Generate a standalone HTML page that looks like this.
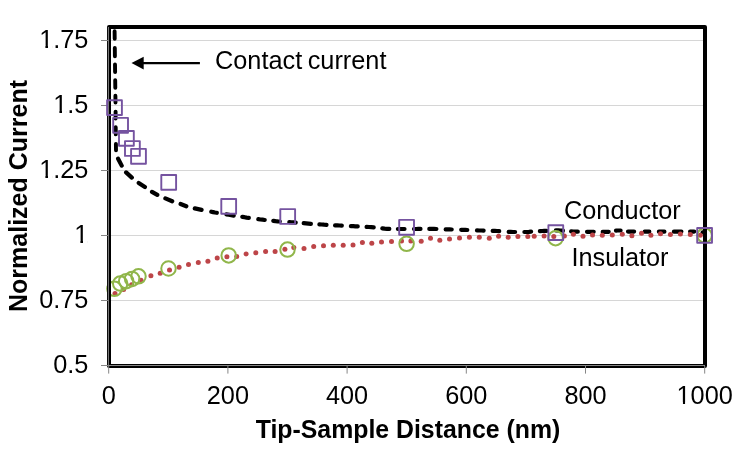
<!DOCTYPE html>
<html><head><meta charset="utf-8"><title>Chart</title>
<style>html,body{margin:0;padding:0;background:#fff}svg{display:block}text{font-family:"Liberation Sans",sans-serif;fill:#000}</style></head><body>
<svg width="753" height="451" viewBox="0 0 753 451">
<rect width="753" height="451" fill="#fff"/>
<line x1="109" x2="705" y1="300.5" y2="300.5" stroke="#d6d6d6" stroke-width="1"/>
<line x1="109" x2="705" y1="235.5" y2="235.5" stroke="#d6d6d6" stroke-width="1"/>
<line x1="109" x2="705" y1="170.5" y2="170.5" stroke="#d6d6d6" stroke-width="1"/>
<line x1="109" x2="705" y1="105.5" y2="105.5" stroke="#d6d6d6" stroke-width="1"/>
<line x1="109" x2="705" y1="40.5" y2="40.5" stroke="#d6d6d6" stroke-width="1"/>
<path d="M114.6,31.3 L114.7,38.7 M114.8,47.9 L114.9,56.2 M115.0,64.5 L115.1,72.0 M115.2,80.3 L115.3,87.8 M115.4,95.7 L115.5,102.5 M115.6,111.6 L115.6,118.5 M115.7,127.3 L115.8,134.4 M115.9,143.9 L116.0,150.3" fill="none" stroke="#000" stroke-width="3.9" stroke-linecap="round" stroke-linejoin="round"/>
<path d="M118.1,158.7 L121.7,165.6 M126.1,172.4 L131.8,177.6 M138.7,182.9 L144.9,187.0 M152.0,191.9 L157.3,194.9 M165.4,198.4 L172.2,201.3 M180.6,204.0 L186.3,206.3 M194.8,208.4 L201.6,209.9 M211.3,211.7 L213.1,212.1 L215.0,212.5 L216.8,212.8 M226.4,214.4 L228.8,214.8 L231.3,215.2 L233.7,215.6 M242.3,216.9 L244.5,217.2 L246.6,217.6 L248.8,217.9 M258.3,219.2 L260.4,219.5 L262.6,219.7 L264.7,220.0 M273.3,220.9 L275.5,221.2 L277.6,221.4 L279.8,221.5 M289.3,222.1 L291.4,222.3 L293.6,222.4 L295.7,222.6 M303.7,223.2 L306.1,223.4 L308.5,223.6 L310.9,223.8 M319.4,224.4 L321.8,224.5 L324.1,224.7 L326.5,224.8 M335.1,225.3 L337.3,225.4 L339.6,225.5 L341.8,225.6 M350.9,226.1 L353.2,226.2 L355.4,226.3 L357.7,226.4 M366.6,226.8 L369.0,227.0 L371.3,227.2 L373.7,227.4 M382.3,228.4 L384.6,228.7 L387.0,228.8 L389.3,228.9 M397.9,229.0 L400.1,229.0 L402.3,229.0 L404.5,229.0 M414.0,229.0 L416.2,229.0 L418.3,228.9 L420.5,228.9 M429.3,228.9 L431.7,228.9 L434.0,228.9 L436.4,229.0 M445.7,229.3 L447.7,229.4 L449.7,229.4 L451.7,229.5 M461.2,229.8 L463.2,229.8 L465.3,229.9 L467.3,230.0 M477.0,230.4 L479.2,230.5 L481.4,230.5 L483.6,230.6 M492.7,230.8 L494.9,230.9 L497.0,231.0 L499.2,231.1 M508.7,231.8 L510.8,231.9 L513.0,232.0 L515.1,232.0 M524.4,232.0 L526.6,232.0 L528.9,231.9 L531.1,231.7 M539.9,231.1 L542.1,231.0 L544.2,230.9 L546.4,230.8 M555.9,230.4 L558.2,230.3 L560.6,230.5 L562.9,230.7 M571.1,231.4 L573.3,231.6 L575.6,231.7 L577.8,231.7 M587.0,231.8 L589.2,231.8 L591.5,231.8 L593.7,231.8 M602.7,231.9 L604.7,231.9 L606.7,231.8 L608.7,231.8 M616.0,230.6 L617.5,230.5 L619.1,230.5 L620.6,230.5 M628.0,231.6 L630.0,231.6 L632.1,231.6 L634.1,231.6 M644.7,231.6 L646.2,231.7 L647.8,231.7 L649.3,231.7 M658.9,231.7 L660.7,231.7 L662.6,231.7 L664.4,231.7 M673.9,231.7 L676.4,231.7 L678.9,231.6 L681.4,231.6 M690.1,231.6 L691.5,231.6 L692.8,231.6 L694.2,231.6 M702.6,232.3 L703.0,232.4 L703.5,232.4 L703.9,232.4" fill="none" stroke="#000" stroke-width="4.2" stroke-linecap="round" stroke-linejoin="round"/>
<g fill="#BD4548"><circle cx="115.0" cy="293.6" r="2.5"/><circle cx="123.6" cy="289.5" r="2.5"/><circle cx="131.6" cy="284.8" r="2.5"/><circle cx="141.0" cy="280.2" r="2.5"/><circle cx="150.9" cy="275.8" r="2.5"/><circle cx="160.2" cy="273.2" r="2.5"/><circle cx="169.5" cy="269.9" r="2.5"/><circle cx="179.1" cy="267.3" r="2.5"/><circle cx="188.5" cy="264.4" r="2.5"/><circle cx="198.3" cy="262.4" r="2.5"/><circle cx="207.9" cy="261.3" r="2.5"/><circle cx="217.2" cy="258.0" r="2.5"/><circle cx="226.9" cy="256.7" r="2.5"/><circle cx="236.7" cy="256.4" r="2.5"/><circle cx="246.1" cy="253.9" r="2.5"/><circle cx="255.8" cy="252.7" r="2.5"/><circle cx="265.6" cy="251.4" r="2.5"/><circle cx="275.1" cy="251.4" r="2.5"/><circle cx="284.9" cy="249.3" r="2.5"/><circle cx="293.8" cy="247.5" r="2.5"/><circle cx="304.0" cy="248.4" r="2.5"/><circle cx="313.7" cy="246.5" r="2.5"/><circle cx="323.5" cy="245.8" r="2.5"/><circle cx="333.3" cy="245.2" r="2.5"/><circle cx="343.2" cy="245.2" r="2.5"/><circle cx="353.0" cy="244.9" r="2.5"/><circle cx="362.4" cy="242.4" r="2.5"/><circle cx="371.8" cy="243.3" r="2.5"/><circle cx="381.5" cy="242.0" r="2.5"/><circle cx="391.5" cy="241.5" r="2.5"/><circle cx="401.5" cy="240.9" r="2.5"/><circle cx="410.9" cy="240.9" r="2.5"/><circle cx="421.2" cy="241.2" r="2.5"/><circle cx="430.5" cy="238.2" r="2.5"/><circle cx="439.8" cy="240.2" r="2.5"/><circle cx="449.5" cy="238.9" r="2.5"/><circle cx="459.5" cy="238.0" r="2.5"/><circle cx="469.4" cy="237.3" r="2.5"/><circle cx="479.3" cy="237.3" r="2.5"/><circle cx="489.3" cy="238.2" r="2.5"/><circle cx="498.6" cy="236.3" r="2.5"/><circle cx="508.2" cy="237.3" r="2.5"/><circle cx="517.9" cy="236.6" r="2.5"/><circle cx="527.8" cy="236.6" r="2.5"/><circle cx="534.2" cy="236.3" r="2.5"/><circle cx="544.1" cy="236.0" r="2.5"/><circle cx="553.8" cy="236.6" r="2.5"/><circle cx="564.4" cy="235.9" r="2.5"/><circle cx="573.4" cy="234.3" r="2.5"/><circle cx="583" cy="236.3" r="2.5"/><circle cx="592.5" cy="234.9" r="2.5"/><circle cx="602.3" cy="235.3" r="2.5"/><circle cx="612.3" cy="234.9" r="2.5"/><circle cx="622.3" cy="234.3" r="2.5"/><circle cx="631.9" cy="235.7" r="2.5"/><circle cx="641.5" cy="233.3" r="2.5"/><circle cx="650.9" cy="235.3" r="2.5"/><circle cx="660.5" cy="233.8" r="2.5"/><circle cx="670.4" cy="234.6" r="2.5"/><circle cx="680.4" cy="234.1" r="2.5"/><circle cx="690.3" cy="234.4" r="2.5"/><circle cx="700.3" cy="235.2" r="2.5"/></g>
<g fill="none" stroke="#90B64A" stroke-width="2.0"><circle cx="114.4" cy="288.8" r="7.25"/><circle cx="120.2" cy="283.6" r="7.25"/><circle cx="126.2" cy="281.2" r="7.25"/><circle cx="132.1" cy="278.9" r="7.25"/><circle cx="138.5" cy="276.3" r="7.25"/><circle cx="168.5" cy="268.5" r="7.25"/><circle cx="228.7" cy="255.4" r="7.25"/><circle cx="287.5" cy="249.6" r="7.25"/><circle cx="406.6" cy="243.8" r="7.25"/><circle cx="555.6" cy="238.2" r="7.25"/><circle cx="704.6" cy="235.4" r="7.25"/></g>
<rect x="109" y="27" width="596" height="339" fill="none" stroke="#000" stroke-width="4" stroke-linejoin="round"/>
<g stroke="#868686" stroke-width="1">
<line x1="108.4" x2="108.4" y1="27" y2="366"/>
<line x1="108" x2="705" y1="365.5" y2="365.5"/>
<line x1="101" x2="108.3" y1="365.5" y2="365.5"/>
<line x1="101" x2="108.3" y1="300.5" y2="300.5"/>
<line x1="101" x2="108.3" y1="235.5" y2="235.5"/>
<line x1="101" x2="108.3" y1="170.5" y2="170.5"/>
<line x1="101" x2="108.3" y1="105.5" y2="105.5"/>
<line x1="101" x2="108.3" y1="40.5" y2="40.5"/>
<line x1="108.7" x2="108.7" y1="366" y2="373.6"/>
<line x1="227.9" x2="227.9" y1="366" y2="373.6"/>
<line x1="347.1" x2="347.1" y1="366" y2="373.6"/>
<line x1="466.3" x2="466.3" y1="366" y2="373.6"/>
<line x1="585.5" x2="585.5" y1="366" y2="373.6"/>
<line x1="704.7" x2="704.7" y1="366" y2="373.6"/>
</g>
<g fill="none" stroke="#7553A0" stroke-width="1.9" stroke-linejoin="round"><rect x="107.1" y="100.2" width="14.8" height="14.8"/><rect x="113.2" y="117.9" width="14.8" height="14.8"/><rect x="119.0" y="131.0" width="14.8" height="14.8"/><rect x="125.0" y="141.1" width="14.8" height="14.8"/><rect x="131.1" y="148.9" width="14.8" height="14.8"/><rect x="161.3" y="175.0" width="14.8" height="14.8"/><rect x="221.3" y="199.0" width="14.8" height="14.8"/><rect x="280.3" y="209.1" width="14.8" height="14.8"/><rect x="399.2" y="219.9" width="14.8" height="14.8"/><rect x="548.4" y="225.2" width="14.8" height="14.8"/><rect x="697.2" y="228.0" width="14.8" height="14.8"/></g>
<line x1="140" x2="199.9" y1="63.1" y2="63.1" stroke="#000" stroke-width="2.2"/>
<polygon points="131.5,63.1 143.7,56.8 143.7,69.4" fill="#000"/>
<g font-size="25.3px">
<text x="215" y="68.6" word-spacing="-1.5">Contact current</text>
<text x="564" y="218.8">Conductor</text>
<text x="571.5" y="266">Insulator</text>
<text x="88.4" y="372.9" text-anchor="end">0.5</text>
<text x="88.4" y="307.9" text-anchor="end">0.75</text>
<text x="88.4" y="242.9" text-anchor="end">1</text>
<text x="88.4" y="177.9" text-anchor="end">1.25</text>
<text x="88.4" y="112.9" text-anchor="end">1.5</text>
<text x="88.4" y="47.9" text-anchor="end">1.75</text>
<text x="108.7" y="404" text-anchor="middle">0</text>
<text x="227.9" y="404" text-anchor="middle">200</text>
<text x="347.1" y="404" text-anchor="middle">400</text>
<text x="466.3" y="404" text-anchor="middle">600</text>
<text x="585.5" y="404" text-anchor="middle">800</text>
<text x="704.7" y="404" text-anchor="middle">1000</text>
</g>
<g fill="#fff"><rect x="40.5" y="45.85" width="4.90" height="2.8"/><rect x="48.0" y="45.85" width="4.50" height="2.8"/><rect x="54.5" y="110.85" width="4.90" height="2.8"/><rect x="62.0" y="110.85" width="4.50" height="2.8"/><rect x="40.5" y="175.85" width="4.90" height="2.8"/><rect x="48.0" y="175.85" width="4.50" height="2.8"/><rect x="75.5" y="240.85" width="4.90" height="2.8"/><rect x="83.0" y="240.85" width="4.50" height="2.8"/><rect x="677.5" y="401.95" width="5.45" height="2.8"/><rect x="685.05" y="401.95" width="5.45" height="2.8"/></g>
<text x="408" y="437.9" text-anchor="middle" font-size="24.85px" font-weight="bold">Tip-Sample Distance (nm)</text>
<text transform="translate(27.3,196) rotate(-90)" text-anchor="middle" font-size="25px" font-weight="bold">Normalized Current</text>
</svg></body></html>
